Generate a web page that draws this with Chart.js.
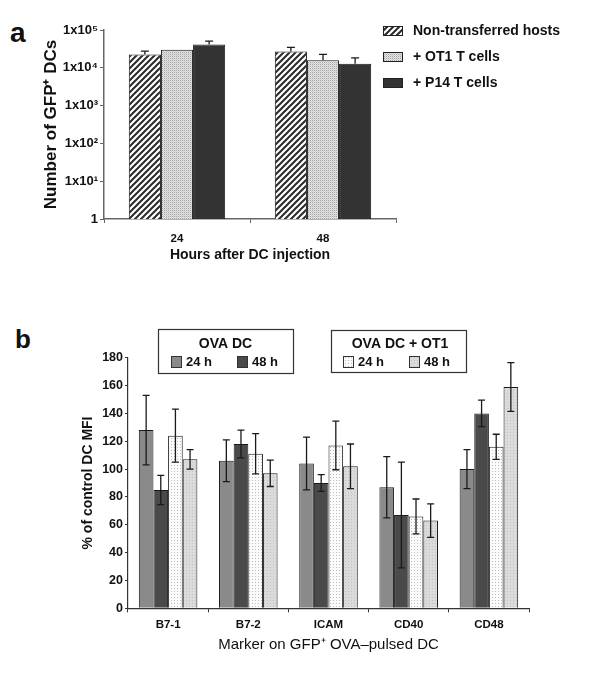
<!DOCTYPE html>
<html>
<head>
<meta charset="utf-8">
<script src="https://cdn.jsdelivr.net/npm/chart.js@4.4.0/dist/chart.umd.min.js"></script>
<style>
  body { margin: 0; background: #fff; width: 600px; height: 676px; position: relative; overflow: hidden; font-family: "Liberation Sans", Arial, sans-serif; }
  canvas { position: absolute; left: 0; }
  #chartA { top: 0; }
  #chartB { top: 300px; }
  .panel { position: absolute; font-weight: bold; line-height: 1; color: #111; }
</style>
</head>
<body>
<div class="panel" style="left:10px; top:19px; font-size:28px;">a</div>
<div class="panel" style="left:15px; top:326px; font-size:26px;">b</div>
<canvas id="chartA" width="600" height="290"></canvas>
<canvas id="chartB" width="600" height="376"></canvas>
<script>
// ---- panel a data ----
const hours = ['24', '48'];
const seriesA = ['Non-transferred hosts', '+ OT1 T cells', '+ P14 T cells'];
const nonTransferred = [22600, 27100];
const nonTransferredErr = [5000, 7400];
const ot1Cells = [29900, 15960];
const ot1CellsErr = [0, 6600];
const p14Cells = [41400, 12800];
const p14CellsErr = [9200, 5600];
const decadeTicks = [1, 10, 100, 1000, 10000, 100000];

// ---- panel b data ----
const markers = ['B7-1', 'B7-2', 'ICAM', 'CD40', 'CD48'];
const groupTitles = ['OVA DC', 'OVA DC + OT1'];
const timeLabels = ['24 h', '48 h'];
const ovaDc24 = [128, 106, 104, 87, 100];
const ovaDc24Err = [25, 15, 19, 22, 14];
const ovaDc48 = [85, 118, 90, 67, 140];
const ovaDc48Err = [10.5, 10, 6, 38, 9.5];
const ovaOt1_24 = [124, 111, 117, 66, 116];
const ovaOt1_24Err = [19, 14.5, 17.5, 12.5, 9];
const ovaOt1_48 = [107, 97, 102, 63, 159];
const ovaOt1_48Err = [7, 9.5, 16, 12, 17.5];

const FONT = '"Liberation Sans", Arial, sans-serif';
const sup = { '0': '\u2070', '1': '\u00b9', '2': '\u00b2', '3': '\u00b3', '4': '\u2074', '5': '\u2075' };

function makePattern(ctx, size, bg, draw) {
    const c = document.createElement('canvas');
    c.width = size; c.height = size;
    const p = c.getContext('2d');
    p.fillStyle = bg;
    p.fillRect(0, 0, size, size);
    draw(p);
    return ctx.createPattern(c, 'repeat');
}

const ctxA = document.getElementById('chartA').getContext('2d');
const ctxB = document.getElementById('chartB').getContext('2d');

const hatch = makePattern(ctxA, 6, '#ffffff', p => {
    p.strokeStyle = '#2a2a2a';
    p.lineWidth = 2;
    p.beginPath();
    p.moveTo(0, 6); p.lineTo(6, 0);
    p.moveTo(-1, 1); p.lineTo(1, -1);
    p.moveTo(5, 7); p.lineTo(7, 5);
    p.stroke();
});
const dotsGray = makePattern(ctxA, 2, '#e2e2e2', p => {
    p.fillStyle = '#a6a6a6'; p.fillRect(0, 0, 1, 1);
    p.fillStyle = '#cfcfcf'; p.fillRect(1, 1, 1, 1);
});
const dotsWhite = makePattern(ctxB, 3, '#fbfbfb', p => {
    p.fillStyle = '#bdbdbd'; p.fillRect(0, 0, 1, 1);
});
const dotsLight = makePattern(ctxB, 3, '#dbdbdb', p => {
    p.fillStyle = '#c2c2c2'; p.fillRect(0, 0, 1, 1);
});

// error bars drawn on top of the bars, positioned with the chart's own y scale
const errorBars = {
    id: 'errorBars',
    afterDatasetsDraw(chart, args, opts) {
        const ctx = chart.ctx;
        const y = chart.scales.y;
        chart.data.datasets.forEach((ds, i) => {
            if (!ds.errors) return;
            chart.getDatasetMeta(i).data.forEach((bar, j) => {
                const err = ds.errors[j];
                if (!err) return;
                const v = ds.data[j];
                const top = y.getPixelForValue(v + err);
                const bottom = opts.upperOnly ? bar.y : y.getPixelForValue(v - err);
                ctx.save();
                ctx.strokeStyle = '#1a1a1a';
                ctx.lineWidth = 1.3;
                ctx.beginPath();
                ctx.moveTo(bar.x, top); ctx.lineTo(bar.x, bottom);
                ctx.moveTo(bar.x - opts.cap, top); ctx.lineTo(bar.x + opts.cap, top);
                if (!opts.upperOnly) {
                    ctx.moveTo(bar.x - opts.cap, bottom); ctx.lineTo(bar.x + opts.cap, bottom);
                }
                ctx.stroke();
                ctx.restore();
            });
        });
    }
};

const legendA = {
    id: 'legendA',
    afterDraw(chart) {
        const ctx = chart.ctx;
        const rows = [31, 57, 83];
        ctx.save();
        chart.data.datasets.forEach((ds, i) => {
            ctx.fillStyle = ds.backgroundColor;
            ctx.fillRect(383, rows[i] - 4.5, 19, 9);
            ctx.strokeStyle = '#222';
            ctx.lineWidth = 1;
            ctx.strokeRect(383.5, rows[i] - 4.5, 19, 9);
            ctx.fillStyle = '#111';
            ctx.font = 'bold 14px ' + FONT;
            ctx.textBaseline = 'middle';
            ctx.textAlign = 'left';
            ctx.fillText(ds.label, 413, rows[i]);
        });
        ctx.restore();
    }
};

const legendB = {
    id: 'legendB',
    afterDraw(chart) {
        const ctx = chart.ctx;
        const boxes = [
            { x: 158.5, y: 29.5, w: 135, h: 44, cx: 225.5, items: [171, 237] },
            { x: 331.5, y: 30.5, w: 135, h: 42, cx: 400, items: [343, 409] }
        ];
        ctx.save();
        boxes.forEach((b, g) => {
            ctx.strokeStyle = '#333';
            ctx.lineWidth = 1.2;
            ctx.strokeRect(b.x, b.y, b.w, b.h);
            ctx.fillStyle = '#111';
            ctx.font = 'bold 14px ' + FONT;
            ctx.textAlign = 'center';
            ctx.textBaseline = 'middle';
            ctx.fillText(groupTitles[g], b.cx, 44);
            chart.data.datasets.filter(ds => ds.group === g).forEach((ds, k) => {
                const sx = b.items[k];
                ctx.fillStyle = ds.backgroundColor;
                ctx.fillRect(sx, 56.5, 10, 11);
                ctx.strokeStyle = '#333';
                ctx.lineWidth = 1;
                ctx.strokeRect(sx + 0.5, 56.5, 10, 11);
                ctx.fillStyle = '#111';
                ctx.font = 'bold 13px ' + FONT;
                ctx.textAlign = 'left';
                ctx.fillText(ds.label, sx + 15, 62.5);
            });
        });
        ctx.restore();
    }
};

new Chart(ctxA, {
    type: 'bar',
    data: {
        labels: hours,
        datasets: [
            { label: seriesA[0], data: nonTransferred, errors: nonTransferredErr, backgroundColor: hatch },
            { label: seriesA[1], data: ot1Cells, errors: ot1CellsErr, backgroundColor: dotsGray },
            { label: seriesA[2], data: p14Cells, errors: p14CellsErr, backgroundColor: '#333333' }
        ]
    },
    options: {
        responsive: false,
        animation: false,
        layout: { padding: { left: 0, right: 204, top: 30, bottom: 0 } },
        datasets: { bar: { categoryPercentage: 0.66, barPercentage: 1, borderColor: '#1a1a1a', borderWidth: 1 } },
        plugins: {
            legend: { display: false },
            tooltip: { enabled: false },
            errorBars: { upperOnly: true, cap: 4 }
        },
        scales: {
            x: {
                grid: { drawOnChartArea: false, tickLength: 4, color: '#666', offset: true },
                border: { color: '#666', width: 1.5 },
                ticks: { color: '#111', padding: 9, font: { family: FONT, size: 11.5, weight: 'bold' } },
                title: { display: true, text: 'Hours after DC injection', color: '#111',
                         font: { family: FONT, size: 14, weight: 'bold' }, padding: { top: 0, bottom: 26 } },
                afterFit: s => { s.height = 71; }
            },
            y: {
                type: 'logarithmic',
                min: 1,
                max: 100000,
                afterBuildTicks: s => { s.ticks = decadeTicks.map(v => ({ value: v })); },
                grid: { drawOnChartArea: false, tickLength: 4, color: '#666' },
                border: { color: '#666', width: 1.5 },
                ticks: {
                    color: '#111', padding: 2,
                    font: { family: FONT, size: 13, weight: 'bold' },
                    callback: v => v === 1 ? '1' : '1x10' + sup[String(Math.round(Math.log10(v)))]
                },
                title: { display: true, text: 'Number of GFP\u207a DCs', color: '#111',
                         font: { family: FONT, size: 17, weight: 'bold' }, padding: { top: 41, bottom: 0 } },
                afterFit: s => { s.width = 104; }
            }
        }
    },
    plugins: [errorBars, legendA]
});

new Chart(ctxB, {
    type: 'bar',
    data: {
        labels: markers,
        datasets: [
            { label: timeLabels[0], group: 0, data: ovaDc24, errors: ovaDc24Err, backgroundColor: '#8a8a8a' },
            { label: timeLabels[1], group: 0, data: ovaDc48, errors: ovaDc48Err, backgroundColor: '#4a4a4a' },
            { label: timeLabels[0], group: 1, data: ovaOt1_24, errors: ovaOt1_24Err, backgroundColor: dotsWhite },
            { label: timeLabels[1], group: 1, data: ovaOt1_48, errors: ovaOt1_48Err, backgroundColor: dotsLight }
        ]
    },
    options: {
        responsive: false,
        animation: false,
        layout: { padding: { left: 0, right: 71, top: 57.7, bottom: 0 } },
        datasets: { bar: { categoryPercentage: 0.73, barPercentage: 1, borderColor: '#1a1a1a', borderWidth: 1 } },
        plugins: {
            legend: { display: false },
            tooltip: { enabled: false },
            errorBars: { upperOnly: false, cap: 3.5 }
        },
        scales: {
            x: {
                grid: { drawOnChartArea: false, tickLength: 4, color: '#333', offset: true },
                border: { color: '#333', width: 1.2 },
                ticks: { color: '#111', padding: 6, font: { family: FONT, size: 11.5, weight: 'bold' } },
                title: { display: true, text: 'Marker on GFP\u207a OVA\u2013pulsed DC', color: '#111',
                         font: { family: FONT, size: 15 }, padding: { top: 0, bottom: 22 } },
                afterFit: s => { s.height = 67.7; }
            },
            y: {
                min: 0,
                max: 180,
                ticks: { stepSize: 20, color: '#111', padding: 2, font: { family: FONT, size: 12.5, weight: 'bold' } },
                grid: { drawOnChartArea: false, tickLength: 3, color: '#333' },
                border: { color: '#333', width: 1.2 },
                title: { display: true, text: '% of control DC MFI', color: '#111',
                         font: { family: FONT, size: 14, weight: 'bold' }, padding: { top: 80, bottom: 0 } },
                afterFit: s => { s.width = 128; }
            }
        }
    },
    plugins: [errorBars, legendB]
});
</script>
</body>
</html>
